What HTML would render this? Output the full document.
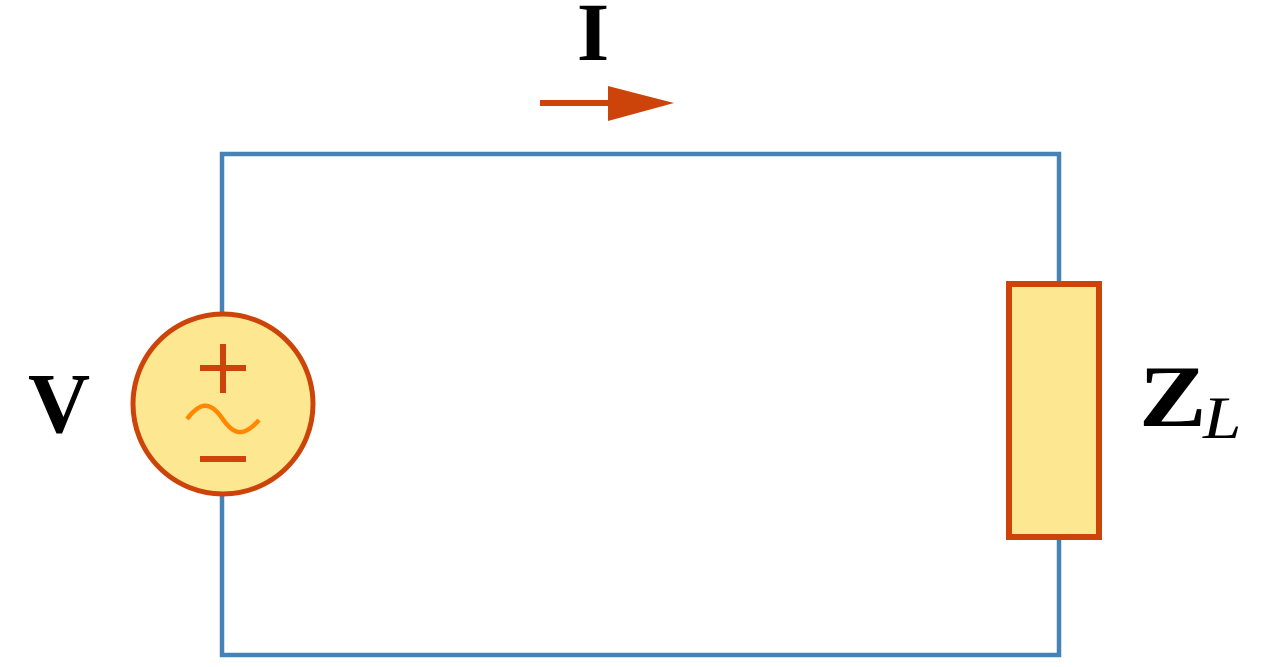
<!DOCTYPE html>
<html><head><meta charset="utf-8"><style>html,body{margin:0;padding:0;background:#fff;}svg{display:block}</style></head>
<body>
<svg width="1265" height="667" viewBox="0 0 1265 667">
  <g fill="none" stroke="#4682b4" stroke-width="4.5">
    <polyline points="222,314 222,154 1059,154 1059,284"/>
    <polyline points="222,494 222,655 1059,655 1059,537"/>
  </g>
  <g>
    <circle cx="223" cy="404" r="90" fill="#fde891" stroke="#cc4409" stroke-width="5"/>
    <line x1="223" y1="344" x2="223" y2="393" stroke="#cc4409" stroke-width="6"/>
    <line x1="200" y1="368" x2="246" y2="368" stroke="#cc4409" stroke-width="6"/>
    <path d="M187,419 C200,402 210,401 222,418 C234,436 244,437 259,420" fill="none" stroke="#ff8800" stroke-width="4.5"/>
    <line x1="200" y1="459" x2="246" y2="459" stroke="#cc4409" stroke-width="6"/>
  </g>
  <rect x="1009" y="284" width="90" height="253" fill="#fde891" stroke="#cc4409" stroke-width="6"/>
  <g fill="#cc4409">
    <line x1="540" y1="103" x2="612" y2="103" stroke="#cc4409" stroke-width="6"/>
    <polygon points="608,86 674,103 608,121"/>
  </g>
  <text x="593" y="60" text-anchor="middle" font-family="Liberation Serif, serif" font-weight="bold" font-size="83">I</text>
  <text x="59" y="432" text-anchor="middle" font-family="Liberation Serif, serif" font-weight="bold" font-size="86">V</text>
  <text transform="translate(1139,426) scale(1.15,1)" x="0" y="0" font-family="Liberation Serif, serif" font-weight="bold" font-size="88">Z</text>
  <text transform="translate(1203,438) scale(1.15,1)" x="0" y="0" font-family="Liberation Serif, serif" font-style="italic" font-size="60">L</text>
</svg>
</body></html>
